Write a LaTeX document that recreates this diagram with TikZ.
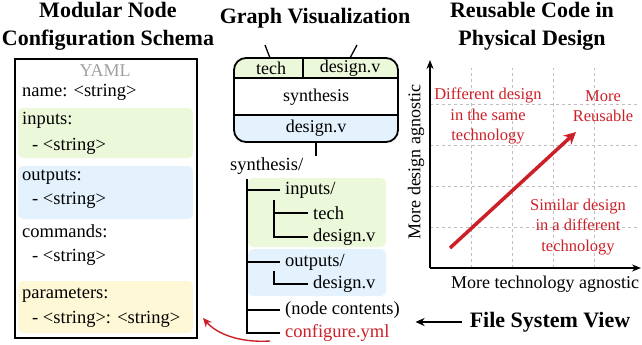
\documentclass[tikz,border=0pt]{standalone}
\usepackage{fontspec}
\setmainfont{Liberation Serif}
\usetikzlibrary{arrows.meta}
\definecolor{gfill}{RGB}{236,248,218}
\definecolor{bfill}{RGB}{228,242,253}
\definecolor{yfill}{RGB}{255,248,214}
\definecolor{myred}{RGB}{204,32,40}
\definecolor{ygray}{RGB}{160,160,160}
\definecolor{grid}{RGB}{190,190,190}
\begin{document}
\begin{tikzpicture}[x=1pt,y=-1pt,
  title/.style={font=\fontsize{22}{28}\selectfont\bfseries, inner sep=0, align=center},
  txt/.style={font=\fontsize{18.5}{21}\selectfont, inner sep=0, anchor=west},
  ctxt/.style={font=\fontsize{18}{21}\selectfont, inner sep=0},
  rtxt/.style={font=\fontsize{16.5}{20.5}\selectfont, inner sep=0, align=center, text=myred},
  band/.style={rounded corners=5pt, draw=none},
  treeline/.style={line width=1.3pt},
  gridline/.style={grid, dashed, line width=0.8pt}]
\useasboundingbox (0,0) rectangle (642,345);

% ---------- Left panel ----------
\node[title] (t1) at (108,26) {Modular Node\\Configuration Schema};
\fill[gfill, band] (18,108) rectangle (193,158);
\fill[bfill, band] (18,166) rectangle (193,219);
\fill[yfill, band] (18,281) rectangle (193,333);
\node[draw, line width=1.8pt, minimum width=182pt, minimum height=279pt, anchor=north west] (schema) at (14,58) {};
\node[ctxt, text=ygray] (yaml) at (105,71) {YAML};
\node[txt] (nm) at (22,92) {name: <string>};
\node[txt] (in) at (22,120) {inputs:};
\node[txt] (ins) at (32,146) {- <string>};
\node[txt] (out) at (22,177) {outputs:};
\node[txt] (outs) at (32,200) {- <string>};
\node[txt] (cmd) at (22,231) {commands:};
\node[txt] (cmds) at (32,257) {- <string>};
\node[txt] (par) at (22,295) {parameters:};
\node[txt] (pars) at (32,319) {- <string>: <string>};

% ---------- Middle: graph visualization ----------
\node[title] (t2) at (315,18) {Graph Visualization};
\begin{scope}
  \clip[rounded corners=12pt] (234,58) rectangle (398,142);
  \fill[gfill] (234,58) rectangle (398,78);
  \fill[white] (234,78) rectangle (398,115);
  \fill[bfill] (234,115) rectangle (398,142);
\end{scope}
\draw[line width=1.8pt, rounded corners=12pt] (234,58) rectangle (398,142);
\draw[line width=1.3pt] (234,78) -- (398,78);
\draw[line width=1.3pt] (234,115) -- (398,115);
\draw[line width=1.3pt] (303,58) -- (303,78);
\node[ctxt] (gtech) at (271,68) {tech};
\node[ctxt] (gdes) at (350,68) {design.v};
\node[ctxt] (gsyn) at (316,97) {synthesis};
\node[ctxt] (gout) at (316,128) {design.v};
\coordinate (e1a) at (265,45); \coordinate (e1b) at (270,58);
\coordinate (e2a) at (357,45); \coordinate (e2b) at (350,58);
\coordinate (e3a) at (316,142); \coordinate (e3b) at (316,156);
\draw[treeline] (e1a) -- (e1b);
\draw[treeline] (e2a) -- (e2b);
\draw[treeline] (e3a) -- (e3b);

% ---------- Middle: file tree ----------
\fill[gfill, band] (248,178) rectangle (386,247);
\fill[bfill, band] (248,249) rectangle (386,296);
\node[txt] (syn) at (230,166) {synthesis/};
\node[txt] (inp) at (285,190) {inputs/};
\node[txt] (tech) at (313,213) {tech};
\node[txt] (dv1) at (313,237) {design.v};
\node[txt] (outp) at (285,262) {outputs/};
\node[txt] (dv2) at (313,284) {design.v};
\node[txt] (nc) at (285,310) {(node contents)};
\node[txt, text=myred] (cfg) at (285,333) {configure.yml};
\draw[treeline] (247,179) |- ([xshift=-5pt]cfg.west);
\draw[treeline] (247,190) -- ([xshift=-5pt]inp.west);
\draw[treeline] (247,262) -- ([xshift=-5pt]outp.west);
\draw[treeline] (247,310) -- ([xshift=-5pt]nc.west);
\draw[treeline] (274,200) |- ([xshift=-5pt]dv1.west);
\draw[treeline] (274,213) -- ([xshift=-5pt]tech.west);
\draw[treeline] (274,271) |- ([xshift=-5pt]dv2.west);

\coordinate (cs) at (270,341);
\draw[myred, line width=1.4pt, -{Stealth[length=9pt,width=8pt]}] (cs) .. controls (238,343) and (216,333) .. (203,318);

\node[font=\fontsize{22}{24}\selectfont\bfseries, inner sep=0] (fsv) at (550,322) {File System View};
\draw[line width=1.5pt, -{Stealth[length=9pt,width=8pt]}] ([xshift=-8pt]fsv.west) -- ++(-46,0) coordinate (fsvend);

% ---------- Right panel ----------
\node[title] (t3) at (532,26) {Reusable Code in\\Physical Design};
\foreach \i in {1,...,4} {
  \draw[gridline] (430+41*\i,268) -- (430+41*\i,68);
  \draw[gridline] (430,268-41*\i) -- (640,268-41*\i);
}
\coordinate (o) at (430,268);
\coordinate (ytop) at (430,60);
\coordinate (xend) at (641,268);
\draw[line width=1.8pt, -{Stealth[length=9pt,width=7pt]}] (o) -- (ytop);
\draw[line width=1.8pt, -{Stealth[length=9pt,width=7pt]}] (o) -- (xend);
\node[ctxt, rotate=90] (ylab) at (416,162) {More design agnostic};
\node[ctxt] (xlab) at (545,284) {More technology agnostic};
\node[rtxt] (q1) at (488,116) {Different design\\in the same\\technology};
\node[rtxt] (q2) at (603,106) {More\\Reusable};
\node[rtxt] (q3) at (578,227) {Similar design\\in a different\\technology};
\coordinate (ra) at (450,248);
\coordinate (rb) at (576,132);
\draw[myred, line width=3.5pt, -{Stealth[length=12pt,width=12pt]}] (ra) -- (rb);
\end{tikzpicture}
\end{document}
